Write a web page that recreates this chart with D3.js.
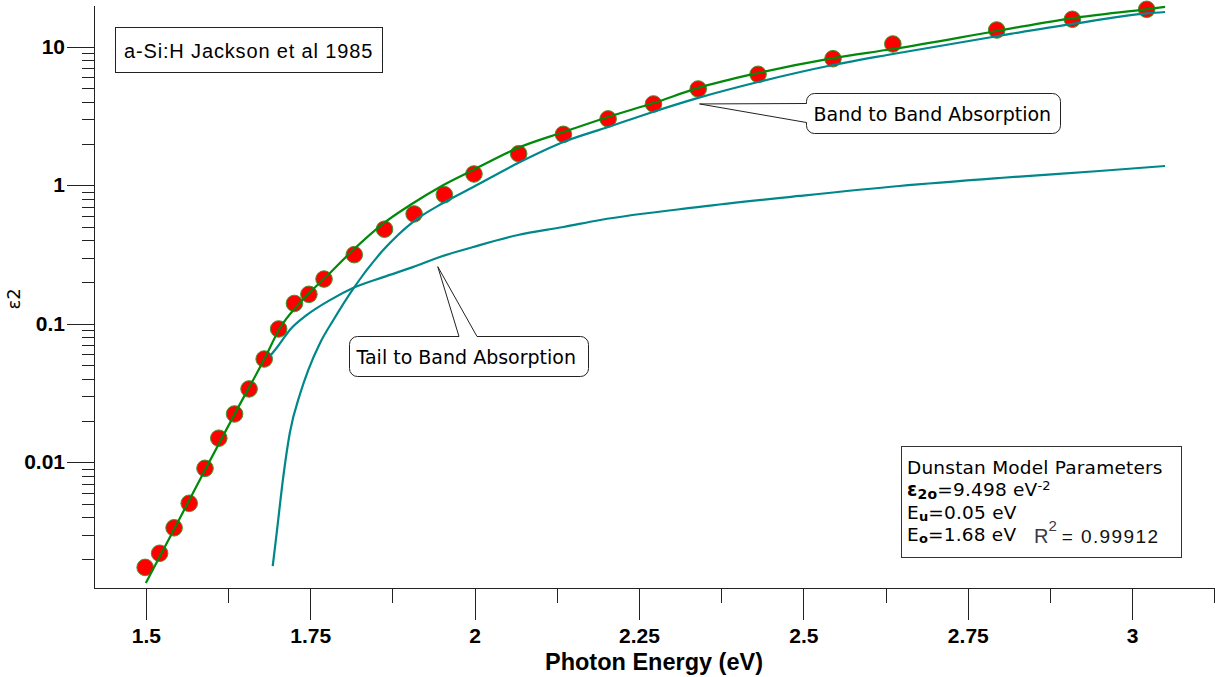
<!DOCTYPE html>
<html lang="en">
<head>
  <meta charset="UTF-8" />
  <script src="https://d3js.org/d3.v7.min.js"></script>
  <style>
    body { margin: 0; background: #fff; }
    svg { display: block; font-family: "Liberation Sans", Arial, sans-serif; }
    .axis path, .axis line { stroke: #222; stroke-width: 1px; shape-rendering: crispEdges; }
    .axis text { font-weight: bold; font-size: 21px; fill: #000; font-family: "Liberation Sans", Arial, sans-serif; }
    .note { font-family: "DejaVu Sans", sans-serif; fill: #000; }
  </style>
</head>
<body>
  <svg id="chart" width="1215" height="677"></svg>

  <script>
    // measured eps2 (a-Si:H, Jackson et al 1985)
    const energy = [1.499, 1.521, 1.543, 1.566, 1.590, 1.611, 1.635, 1.657, 1.680, 1.702, 1.726, 1.748, 1.771,
      1.817, 1.863, 1.908, 1.954, 1.999, 2.067, 2.135, 2.203, 2.272, 2.340, 2.431, 2.545, 2.636, 2.794, 2.909, 3.022];
    const eps2 = [0.00174, 0.00220, 0.00336, 0.00505, 0.00903, 0.0149, 0.0223, 0.0338, 0.0556, 0.0916, 0.140, 0.163, 0.210,
      0.315, 0.481, 0.620, 0.854, 1.205, 1.687, 2.33, 3.01, 3.86, 4.95, 6.32, 8.19, 10.46, 13.20, 15.78, 18.62];

    // total Dunstan fit
    const fitE = [1.500, 1.544, 1.590, 1.636, 1.681, 1.704, 1.734, 1.780, 1.815, 1.862, 1.902, 1.952, 1.998,
      2.066, 2.135, 2.203, 2.272, 2.340, 2.431, 2.545, 2.636, 2.794, 2.909, 3.023, 3.050];
    const fitV = [0.00134, 0.00335, 0.00879, 0.0227, 0.0565, 0.0931, 0.141, 0.232, 0.340, 0.533, 0.719, 1.00, 1.29,
      1.86, 2.42, 3.11, 3.92, 5.04, 6.46, 8.28, 9.62, 12.98, 16.1, 18.7, 19.4];

    // band to band component
    const bandE = [1.693, 1.699, 1.709, 1.719, 1.735, 1.747, 1.765, 1.785, 1.815, 1.861, 1.906, 1.952, 1.998,
      2.066, 2.135, 2.203, 2.271, 2.340, 2.431, 2.545, 2.636, 2.794, 2.909, 3.023, 3.050];
    const bandV = [0.00178, 0.00308, 0.00782, 0.0163, 0.0316, 0.0463, 0.0726, 0.106, 0.178, 0.340, 0.542, 0.744, 0.971,
      1.445, 2.05, 2.63, 3.38, 4.27, 5.56, 7.38, 8.86, 11.9, 14.6, 17.4, 17.8];

    // tail to band component
    const tailE = [1.689, 1.700, 1.719, 1.745, 1.780, 1.815, 1.861, 1.906, 1.947, 1.998, 2.066, 2.135, 2.191,
      2.342, 2.494, 2.646, 2.798, 2.950, 3.050];
    const tailV = [0.0585, 0.0679, 0.0901, 0.1156, 0.148, 0.181, 0.217, 0.256, 0.303, 0.358, 0.437, 0.499, 0.561,
      0.697, 0.836, 0.987, 1.127, 1.266, 1.376];

    const xTicks = [1.5, 1.75, 2, 2.25, 2.5, 2.75, 3];
    const xMinor = [1.625, 1.875, 2.125, 2.375, 2.625, 2.875, 3.125];
    const yTicks = [0.01, 0.1, 1, 10];
    const yMinor = [0.002, 0.003, 0.004, 0.005, 0.006, 0.007, 0.008, 0.009,
      0.02, 0.03, 0.04, 0.05, 0.06, 0.07, 0.08, 0.09,
      0.2, 0.3, 0.4, 0.5, 0.6, 0.7, 0.8, 0.9,
      2, 3, 4, 5, 6, 7, 8, 9];

    const bandTip = [2.342, 3.86];
    const tailTip = [1.944, 0.258];

    const svg = d3.select("#chart");
    const plotLeft = 94, plotRight = 1215, plotTop = 5, plotBottom = 588;

    const x = d3.scaleLinear().domain([1.4212, 3.1259]).range([plotLeft, plotRight]);
    const y = d3.scaleLog().domain([0.001235, 20]).range([plotBottom, plotTop]);

    // axes
    svg.append("g").attr("class", "axis")
      .attr("transform", `translate(0,${plotBottom})`)
      .call(d3.axisBottom(x).tickValues(xTicks).tickSize(32).tickSizeOuter(0).tickPadding(8).tickFormat(d => d));
    svg.append("g").attr("class", "axis")
      .attr("transform", `translate(0,${plotBottom})`)
      .call(d3.axisBottom(x).tickValues(xMinor).tickSize(15).tickFormat(""))
      .select(".domain").remove();

    svg.append("g").attr("class", "axis")
      .attr("transform", `translate(${plotLeft},0)`)
      .call(d3.axisLeft(y).tickValues(yTicks).tickSize(27).tickSizeOuter(0).tickPadding(2).tickFormat(d => d));
    svg.append("g").attr("class", "axis")
      .attr("transform", `translate(${plotLeft},0)`)
      .call(d3.axisLeft(y).tickValues(yMinor).tickSize(12).tickFormat(""))
      .select(".domain").remove();

    svg.append("text")
      .attr("x", 654).attr("y", 670)
      .attr("text-anchor", "middle")
      .attr("font-weight", "bold").attr("font-size", "23.5px")
      .text("Photon Energy (eV)");

    svg.append("text")
      .attr("class", "note")
      .attr("transform", "translate(20,299) rotate(-90)")
      .attr("text-anchor", "middle")
      .attr("font-size", "18px")
      .text("ε2");

    // data markers
    svg.append("g").selectAll("circle").data(energy)
      .join("circle")
      .attr("cx", d => x(d))
      .attr("cy", (d, i) => y(eps2[i]))
      .attr("r", 8.3)
      .attr("fill", "#ff0000")
      .attr("stroke", "#3c9a32")
      .attr("stroke-width", 1);

    // curves
    const line = d3.line().x(d => x(d[0])).y(d => y(d[1])).curve(d3.curveMonotoneX);
    const curves = [
      [d3.zip(bandE, bandV), "#00878a"],
      [d3.zip(tailE, tailV), "#00878a"],
      [d3.zip(fitE, fitV), "#00890a"]
    ];
    curves.forEach(c => {
      svg.append("path")
        .attr("d", line(c[0]))
        .attr("fill", "none")
        .attr("stroke", c[1])
        .attr("stroke-width", 2.2);
    });

    // title box
    svg.append("rect")
      .attr("x", 115.5).attr("y", 27.5).attr("width", 267).attr("height", 45)
      .attr("fill", "#fff").attr("stroke", "#222");
    svg.append("text")
      .attr("x", 124).attr("y", 58)
      .attr("font-size", "20px").attr("letter-spacing", "0.85px")
      .text("a-Si:H Jackson et al 1985");

    // callouts
    const r = 8;
    let tx = x(bandTip[0]), ty = y(bandTip[1]);
    let bx = 806.5, by = 93.5, bw = 254, bh = 40;
    svg.append("path")
      .attr("d", `M${tx},${ty} L${bx},${by + 10} V${by + r} A${r},${r} 0 0 1 ${bx + r},${by} H${bx + bw - r}
        A${r},${r} 0 0 1 ${bx + bw},${by + r} V${by + bh - r} A${r},${r} 0 0 1 ${bx + bw - r},${by + bh}
        H${bx + r} A${r},${r} 0 0 1 ${bx},${by + bh - r} V${by + 29} Z`)
      .attr("fill", "#fff").attr("stroke", "#222").attr("stroke-width", 1);
    svg.append("text").attr("class", "note")
      .attr("x", bx + 7).attr("y", by + 27)
      .attr("font-size", "19px")
      .text("Band to Band Absorption");

    tx = x(tailTip[0]); ty = y(tailTip[1]);
    bx = 349.5; by = 336.5; bw = 239; bh = 40;
    svg.append("path")
      .attr("d", `M${tx},${ty} L477,${by} H${bx + bw - r} A${r},${r} 0 0 1 ${bx + bw},${by + r}
        V${by + bh - r} A${r},${r} 0 0 1 ${bx + bw - r},${by + bh} H${bx + r}
        A${r},${r} 0 0 1 ${bx},${by + bh - r} V${by + r} A${r},${r} 0 0 1 ${bx + r},${by} H459 Z`)
      .attr("fill", "#fff").attr("stroke", "#222").attr("stroke-width", 1);
    svg.append("text").attr("class", "note")
      .attr("x", bx + 7).attr("y", by + 27)
      .attr("font-size", "19px")
      .text("Tail to Band Absorption");

    // parameter box
    svg.append("rect")
      .attr("x", 901.5).attr("y", 446.5).attr("width", 280).attr("height", 111)
      .attr("fill", "#fff").attr("stroke", "#333");
    const params = svg.append("g").attr("class", "note").attr("font-size", "18.5px").attr("letter-spacing", "0.2px");
    params.append("text").attr("x", 907).attr("y", 474).text("Dunstan Model Parameters");

    let t = params.append("text").attr("x", 907).attr("y", 496);
    t.append("tspan").attr("font-weight", "bold").text("ε");
    t.append("tspan").attr("font-weight", "bold").attr("font-size", "14px").attr("dy", 3).text("2o");
    t.append("tspan").attr("dy", -3).text("=9.498 eV");
    t.append("tspan").attr("font-size", "13px").attr("dy", -6).text("-2");

    t = params.append("text").attr("x", 907).attr("y", 519);
    t.append("tspan").text("E");
    t.append("tspan").attr("font-weight", "bold").attr("font-size", "13px").attr("dy", 2).text("u");
    t.append("tspan").attr("dy", -2).text("=0.05 eV");

    t = params.append("text").attr("x", 907).attr("y", 541);
    t.append("tspan").text("E");
    t.append("tspan").attr("font-weight", "bold").attr("font-size", "13px").attr("dy", 2).text("o");
    t.append("tspan").attr("dy", -2).text("=1.68 eV");

    t = svg.append("text").attr("x", 1034).attr("y", 543)
      .attr("font-size", "20px").attr("fill", "#3a3a48");
    t.append("tspan").text("R");
    t.append("tspan").attr("font-size", "15px").attr("dy", -12).text("2");
    t.append("tspan").attr("dy", 12).attr("dx", 5).attr("fill", "#111")
      .attr("font-size", "19px").attr("letter-spacing", "1.4px").text("= 0.99912");
  </script>
</body>
</html>
